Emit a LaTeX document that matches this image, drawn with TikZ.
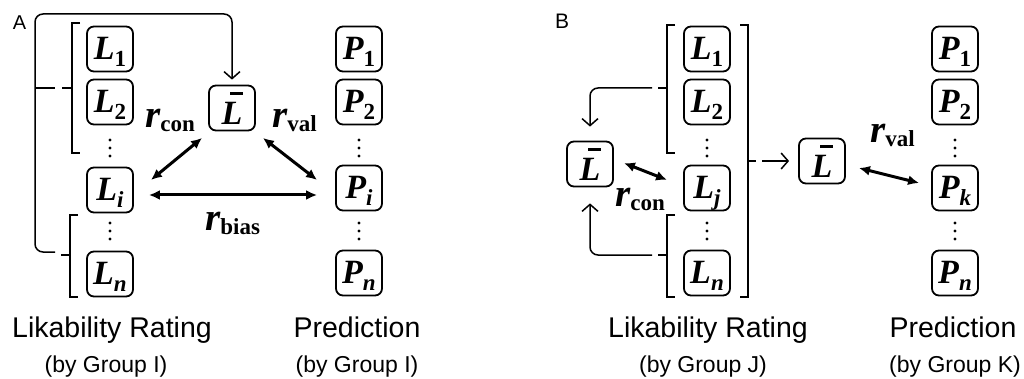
\documentclass[tikz,border=0pt]{standalone}
\usepackage{fontspec}
\setmainfont{Liberation Serif}
\newfontfamily\sansf{Liberation Sans}
\newfontfamily\sbi{Liberation Serif Bold Italic}
\newfontfamily\sbf{Liberation Serif Bold}
\usetikzlibrary{arrows.meta,calc}
\newcommand\bsub[1]{\raisebox{-7pt}{\fontsize{23}{23}\selectfont\sbf #1}}
\newcommand\bsubi[1]{\raisebox{-7pt}{\fontsize{23}{23}\selectfont\sbi #1}}
\newcommand\bL{{\sbi L}}
\newcommand\bP{{\sbi P}}
\newcommand\myLbar{\makebox[0pt][l]{\hspace{0.25em}\rule[0.88em]{0.38em}{0.08em}}{\sbi L}}
\newcommand\rlab[1]{{\fontsize{39}{39}\selectfont\sbi r}\raisebox{-4pt}{\fontsize{23}{23}\selectfont\sbf #1}}
\begin{document}
\begin{tikzpicture}[x=1pt,y=-1pt,
  box/.style={draw, line width=1.8pt, rounded corners=7pt, minimum width=46pt, minimum height=45pt,
    inner sep=0pt, text height=23pt, text depth=2pt, font=\fontsize{34}{34}\selectfont},
  barbox/.style={box, text height=34pt, text depth=0pt},
  thinln/.style={line width=1.5pt},
  dbl/.style={line width=3pt, {Latex[length=11pt,width=10pt]}-{Latex[length=11pt,width=10pt]}},
  arr/.style={line width=1.5pt, -{Straight Barb[length=7pt,width=16pt]}},
  rl/.style={anchor=base west, inner sep=0pt},
  captext/.style={font=\sansf\fontsize{28.5}{30}\selectfont, anchor=base, inner sep=0pt},
  subcap/.style={font=\sansf\fontsize{23}{24}\selectfont, anchor=base, inner sep=0pt},
  panel/.style={font=\sansf\fontsize{20}{20}\selectfont, inner sep=0pt, anchor=base}]
\useasboundingbox (0,0) rectangle (1024,379);

% ---------------- Panel A ----------------
\node[panel] (labA) at (19.5,29.3) {A};
\node[box] (AL1) at (110,49) {\bL\bsub{1}};
\node[box] (AL2) at (110,102) {\bL\bsub{2}};
\node[box] (ALi) at (110,190) {\bL\bsubi{i}};
\node[box] (ALn) at (110,274) {\bL\bsubi{n}};
\node[barbox] (ALbar) at (232,108) {\myLbar};
\node[box] (AP1) at (359,49) {\bP\bsub{1}};
\node[box] (AP2) at (359,102) {\bP\bsub{2}};
\node[box] (APi) at (359,188) {\bP\bsubi{i}};
\node[box] (APn) at (359,273) {\bP\bsubi{n}};
\foreach \x in {110,359}{\foreach \y in {140,148,156,223,231,239}{\fill (\x,\y) circle (1.6pt);}}

% brackets A
\draw[thinln] (80,23) -- (72,23) -- (72,153) -- (80,153);
\draw[thinln] (72,88) -- (62,88);
\draw[thinln] (78,215) -- (70,215) -- (70,297) -- (78,297);
\draw[thinln] (70,255) -- (61,255);
\coordinate (Atop) at (55,88);
\coordinate (Abot) at (55,252);
\draw[arr, rounded corners=8pt] (Abot) -| (35,14) -| ($(ALbar.north)+(0,-5)$);
\draw[thinln] (35,88) -- (Atop);

\draw[dbl] ($(ALi.east)+(17,-10)$) -- ($(ALbar.south west)+(-6,6.5)$);
\draw[dbl] ($(ALbar.south east)+(7,6.5)$) -- ($(APi.west)+(-18,-8)$);
\draw[dbl] ($(ALi.east)+(15,5)$) -- ($(APi.west)+(-18,7)$);

\node[rl] (rconA) at (145,128) {\rlab{con}};
\node[rl] (rvalA) at (272,128) {\rlab{val}};
\node[rl] (rbiasA) at (205,230) {\rlab{bias}};

\node[captext] (capAL) at (112,337) {Likability Rating};
\node[subcap] (subAL) at (106,372) {(by Group I)};
\node[captext] (capAP) at (357,337) {Prediction};
\node[subcap] (subAP) at (357,372) {(by Group I)};

% ---------------- Panel B ----------------
\node[panel, font=\sansf\fontsize{21}{21}\selectfont] (labB) at (562,28.3) {B};
\node[box] (BL1) at (707,49) {\bL\bsub{1}};
\node[box] (BL2) at (707,102) {\bL\bsub{2}};
\node[box] (BLj) at (707,188) {\bL\bsubi{j}};
\node[box] (BLn) at (707,273) {\bL\bsubi{n}};
\node[barbox] (BLbarL) at (590,164) {\myLbar};
\node[barbox] (BLbarM) at (822,161) {\myLbar};
\node[box] (BP1) at (955,49) {\bP\bsub{1}};
\node[box] (BP2) at (955,102) {\bP\bsub{2}};
\node[box] (BPk) at (955,188) {\bP\bsubi{k}};
\node[box] (BPn) at (955,273) {\bP\bsubi{n}};
\foreach \x in {707,955}{\foreach \y in {140,148,156,223,231,239}{\fill (\x,\y) circle (1.6pt);}}

% brackets B
\draw[thinln] (675,25) -- (667,25) -- (667,153) -- (675,153);
\draw[thinln] (667,88) -- (658,88);
\draw[thinln] (675,215) -- (667,215) -- (667,297) -- (675,297);
\draw[thinln] (667,255) -- (658,255);
\draw[thinln] (740,25) -- (748,25) -- (748,297) -- (740,297);
\draw[thinln] (748,161) -- (756,161);
\coordinate (Btop) at (652,88);
\coordinate (Bbot) at (652,255);
\coordinate (Bmid) at (762,161);
\draw[arr, rounded corners=8pt] (Btop) -| ($(BLbarL.north)+(0,-14)$);
\draw[arr, rounded corners=8pt] (Bbot) -| ($(BLbarL.south)+(0,16)$);
\draw[arr] (Bmid) -- ($(BLbarM.west)+(-9,0)$);

\draw[dbl] ($(BLbarL.east)+(10,-1)$) -- ($(BLj.west)+(-16,-8)$);
\draw[dbl] ($(BLbarM.east)+(13,7)$) -- ($(BPk.west)+(-12,-5)$);

\node[rl] (rconB) at (615,207) {\rlab{con}};
\node[rl] (rvalB) at (870,143) {\rlab{val}};

\node[captext] (capBL) at (708,337) {Likability Rating};
\node[subcap] (subBL) at (703,372) {(by Group J)};
\node[captext] (capBP) at (953,337) {Prediction};
\node[subcap] (subBP) at (955,372) {(by Group K)};
\end{tikzpicture}
\end{document}
